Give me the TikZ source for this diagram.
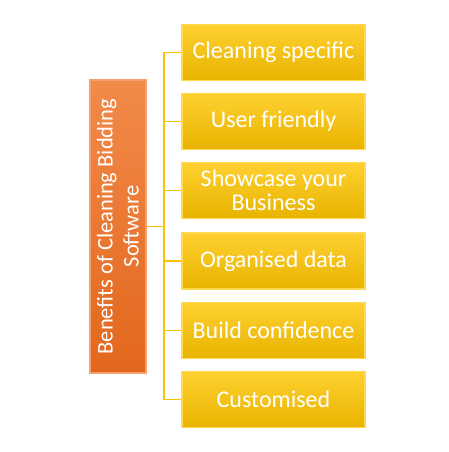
\documentclass[tikz,border=0pt]{standalone}
\usepackage{fontspec}
\setmainfont{Carlito}
\definecolor{yelTop}{HTML}{FFD030}
\definecolor{yelBot}{HTML}{E8B400}
\definecolor{yelEdge}{HTML}{FFDA50}
\definecolor{orTop}{HTML}{F28A4A}
\definecolor{orBot}{HTML}{E2671C}
\definecolor{orEdge}{HTML}{F6A070}
\definecolor{lineCol}{HTML}{FFC000}
\begin{document}
\begin{tikzpicture}[x=1pt,y=-1pt,
  leaf/.style={minimum width=183pt,minimum height=56pt,inner sep=0pt,
    top color=yelTop,bottom color=yelBot,draw=yelEdge,line width=1.2pt,
    text=white,font=\fontsize{24}{24}\selectfont,align=center},
  rootbox/.style={minimum width=56pt,minimum height=293pt,inner sep=0pt,
    top color=orTop,bottom color=orBot,draw=orEdge,line width=1.2pt},
  conn/.style={draw=lineCol,line width=1.4pt}]
\useasboundingbox (0,0) rectangle (449,452);
\node[rootbox] (root) at (118,226.5) {};
\node[text=white,font=\fontsize{22.5}{26}\selectfont,align=center,rotate=90] (roottext) at (root.center) {Benefits of Cleaning Bidding\\Software};
\node[leaf] (l1) at (273.5,52.5) {Cleaning specific};
\node[leaf] (l2) at (273.5,121.5) {User friendly};
\node[leaf] (l3) at (273.5,190.5) {Showcase your\\Business};
\node[leaf] (l4) at (273.5,261) {Organised data};
\node[leaf] (l5) at (273.5,330.5) {Build confidence};
\node[leaf] (l6) at (273.5,399.5) {Customised};
\coordinate (trunkTop) at (164,52.5);
\coordinate (trunkBot) at (164,399.5);
\coordinate (trunkMid) at (164,226.5);
\draw[conn] (root.east) -- (trunkMid);
\draw[conn] (trunkTop) -- (trunkBot);
\foreach \n in {l1,l2,l3,l4,l5,l6}{
  \draw[conn] (\n.west) -- (\n.west -| trunkTop);
}
\end{tikzpicture}
\end{document}
